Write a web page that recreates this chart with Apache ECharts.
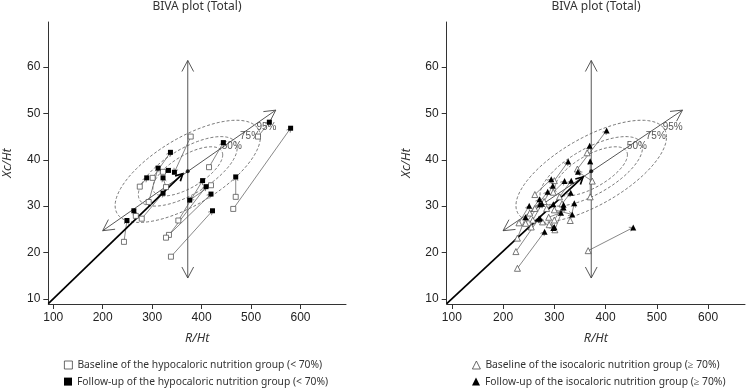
<!DOCTYPE html>
<html><head><meta charset="utf-8">
<script src="https://cdn.jsdelivr.net/npm/echarts@6/dist/echarts.min.js"></script>
<style>html,body{margin:0;padding:0;background:#fff}#c{width:746px;height:391px}</style>
</head><body><div id="c"></div>
<script>
// ---- data ----
const xTicks = [100, 200, 300, 400, 500, 600];
const yTicks = [10, 20, 30, 40, 50, 60];
const titleText = 'BIVA plot (Total)';

// reference tolerance ellipses
const ellipseLevels = [0.50, 0.75, 0.95];
const ellipseLabels = ['50%', '75%', '95%'];
const ellipseLabelR = [461, 498, 531];
const ellipseLabelXc = [43.0, 45.0, 47.1];
const refMean = [372, 37.5];
const refSD = [60, 4.5];
const refCorr = 0.67;

// reference axes (double-headed arrows)
const hydrationAxisR = [200, 550];
const hydrationAxisXc = [24.7, 50.7];
const cellAxisR = [372, 372];
const cellAxisXc = [14.5, 61.4];

// mean vectors (thick arrows from the axes corner)
const meanVecHypoR = [90, 362];
const meanVecHypoXc = [9, 37.0];
const meanVecIsoR = [90, 356];
const meanVecIsoXc = [9, 36.3];

// hypocaloric group (< 70%)
const hypoBaseR   = [378, 415, 514, 469, 464, 353, 334, 328, 338, 243, 267, 279, 293, 275, 301, 322, 328, 419];
const hypoBaseXc  = [45.0, 38.4, 45.0, 32.0, 29.4, 26.9, 23.8, 23.2, 19.1, 22.3, 27.9, 27.3, 30.9, 34.2, 36.1, 37.4, 34.1, 34.5];
const hypoFollowR = [345, 444, 537, 469, 580, 402, 409, 419, 422, 249, 263, 322, 312, 289, 337, 333, 322, 376];
const hypoFollowXc= [37.3, 43.7, 48.1, 36.3, 46.8, 35.5, 34.2, 32.6, 29.0, 26.9, 29.0, 32.8, 38.2, 36.1, 41.6, 37.7, 36.1, 31.3];

// isocaloric group (>= 70%)
const isoBaseR   = [228, 225, 228, 366, 231, 244, 277, 301, 331, 300, 289, 374, 370, 364, 345, 300, 262, 298, 310, 280, 262, 315, 252, 258, 285, 300, 255, 290];
const isoBaseXc  = [16.6, 20.2, 23.1, 20.4, 26.4, 26.3, 26.6, 24.9, 26.9, 29.2, 27.6, 35.4, 32.0, 41.5, 38.0, 35.5, 32.5, 33.0, 32.0, 31.0, 29.5, 30.5, 28.5, 27.0, 29.5, 27.0, 25.5, 26.0];
const isoFollowR = [281, 270, 244, 454, 251, 272, 298, 318, 339, 335, 313, 346, 370, 369, 402, 327, 294, 320, 333, 297, 287, 332, 271, 276, 298, 318, 272, 300];
const isoFollowXc= [24.5, 27.3, 27.6, 25.4, 30.1, 30.4, 25.3, 29.7, 30.6, 28.2, 28.6, 37.4, 39.7, 43.0, 46.3, 39.6, 35.8, 35.4, 35.5, 34.4, 33.1, 32.9, 31.5, 30.5, 30.4, 30.3, 27.4, 25.5];

const hypoNames = ['Baseline of the hypocaloric nutrition group (< 70%)', 'Follow-up of the hypocaloric nutrition group (< 70%)'];
const isoNames = ['Baseline of the isocaloric nutrition group (\u2265 70%)', 'Follow-up of the isocaloric nutrition group (\u2265 70%)'];

// ---- helpers ----
function zip(a, b) { return a.map((v, i) => [v, b[i]]); }
function pairs(r0, x0, r1, x1) { return r0.map((v, i) => [v, x0[i], r1[i], x1[i]]); }
function chi(p) { return Math.sqrt(-2 * Math.log(1 - p)); }

function head(p0, p1, len, ang) {
  const dx = p1[0] - p0[0], dy = p1[1] - p0[1];
  const L = Math.hypot(dx, dy) || 1;
  const bx = -dx / L, by = -dy / L;
  const a = ang * Math.PI / 180, c = Math.cos(a), s = Math.sin(a);
  return [
    [p1[0] + len * (bx * c - by * s), p1[1] + len * (bx * s + by * c)],
    p1,
    [p1[0] + len * (bx * c + by * s), p1[1] + len * (-bx * s + by * c)]
  ];
}
function arrowRender(len, ang, color, width, both) {
  return function (params, api) {
    const p0 = api.coord([api.value(0), api.value(1)]);
    const p1 = api.coord([api.value(2), api.value(3)]);
    const st = { stroke: color, lineWidth: width, fill: null };
    const ch = [
      { type: 'line', shape: { x1: p0[0], y1: p0[1], x2: p1[0], y2: p1[1] }, style: st },
      { type: 'polyline', shape: { points: head(p0, p1, len, ang) }, style: st }
    ];
    if (both) ch.push({ type: 'polyline', shape: { points: head(p1, p0, len, ang) }, style: st });
    return { type: 'group', children: ch };
  };
}
function ellipseRender(params, api) {
  const c = chi(api.value(2));
  const pts = [];
  const k = Math.sqrt(1 - refCorr * refCorr);
  for (let i = 0; i <= 160; i++) {
    const t = i / 160 * 2 * Math.PI;
    const x = refMean[0] + c * refSD[0] * Math.cos(t);
    const y = refMean[1] + c * refSD[1] * (refCorr * Math.cos(t) + k * Math.sin(t));
    pts.push(api.coord([x, y]));
  }
  return { type: 'polyline', shape: { points: pts }, style: { stroke: '#555', fill: null, lineWidth: 0.8, lineDash: [3, 2] } };
}
function labelRender(params, api) {
  const p = api.coord([api.value(0), api.value(1)]);
  return { type: 'text', x: p[0], y: p[1], style: { text: ellipseLabels[params.dataIndex], textAlign: 'center', textVerticalAlign: 'middle', fontSize: 10, fontFamily: 'Liberation Sans', fill: '#555' } };
}

const axisFont = { fontSize: 12, color: '#222', fontFamily: 'Liberation Sans' };
const nameFont = { fontSize: 12.5, color: '#333', fontStyle: 'italic', fontFamily: 'Noto Sans' };

function xAx(gi, max) {
  return {
    gridIndex: gi, type: 'value', min: 90, max: max,
    axisLine: { show: true, onZero: false, lineStyle: { color: '#333', width: 1 } },
    axisTick: { show: true, customValues: xTicks, length: 5, lineStyle: { color: '#333' } },
    axisLabel: Object.assign({ customValues: xTicks, margin: 8 }, axisFont),
    splitLine: { show: false },
    name: 'R/Ht', nameLocation: 'middle', nameGap: 28, nameTextStyle: nameFont
  };
}
function yAx(gi) {
  return {
    gridIndex: gi, type: 'value', min: 8.9, max: 69.7,
    axisLine: { show: true, onZero: false, lineStyle: { color: '#333', width: 1 } },
    axisTick: { show: true, customValues: yTicks, length: 5, lineStyle: { color: '#333' } },
    axisLabel: Object.assign({ customValues: yTicks, margin: 8 }, axisFont),
    splitLine: { show: false },
    name: 'Xc/Ht', nameLocation: 'middle', nameGap: 34, nameTextStyle: nameFont
  };
}

function chartSeries(gi, baseR, baseXc, folR, folXc, mvR, mvXc, names, symbol) {
  const ax = { xAxisIndex: gi, yAxisIndex: gi, coordinateSystem: 'cartesian2d' };
  return [
    Object.assign({ type: 'custom', silent: true, renderItem: ellipseRender, data: ellipseLevels.map(p => [refMean[0], refMean[1], p]), encode: { x: 0, y: 1 }, z: 1 }, ax),
    Object.assign({ type: 'custom', silent: true, renderItem: labelRender, data: zip(ellipseLabelR, ellipseLabelXc), encode: { x: 0, y: 1 }, z: 2 }, ax),
    Object.assign({ type: 'custom', silent: true, renderItem: arrowRender(12.5, 28, '#444', 0.9, true),
      data: [[hydrationAxisR[0], hydrationAxisXc[0], hydrationAxisR[1], hydrationAxisXc[1]], [cellAxisR[0], cellAxisXc[0], cellAxisR[1], cellAxisXc[1]]],
      encode: { x: [0, 2], y: [1, 3] }, z: 2 }, ax),
    Object.assign({ type: 'custom', silent: true, renderItem: arrowRender(8, 28, '#000', 1.7, false),
      data: [[mvR[0], mvXc[0], mvR[1], mvXc[1]]], encode: { x: [0, 2], y: [1, 3] }, z: 4 }, ax),
    Object.assign({ type: 'custom', silent: true, renderItem: arrowRender(4.5, 30, '#555', 0.7, false),
      data: pairs(baseR, baseXc, folR, folXc), encode: { x: [0, 2], y: [1, 3] }, z: 3 }, ax),
    Object.assign({ type: 'scatter', name: names[0], symbol: symbol, symbolSize: symbol === 'rect' ? 5 : 6,
      itemStyle: { color: '#fff', borderColor: '#555', borderWidth: 0.8, opacity: 1 }, data: zip(baseR, baseXc), z: 5 }, ax),
    Object.assign({ type: 'scatter', name: names[1], symbol: symbol, symbolSize: symbol === 'rect' ? 5 : 6,
      itemStyle: { color: '#000', opacity: 1 }, data: zip(folR, folXc), z: 6 }, ax),
    Object.assign({ type: 'scatter', symbol: 'circle', symbolSize: 4, itemStyle: { color: '#000' }, data: [refMean], z: 6 }, ax)
  ];
}

const legendText = { fontSize: 10.3, color: '#333', fontFamily: 'Noto Sans' };
function leg(left, top, name, icon, filled) {
  return {
    orient: 'horizontal', left: left, top: top, itemWidth: 8, itemHeight: 8, itemGap: 4, padding: 0,
    selectedMode: false, textStyle: legendText,
    data: [{ name: name, icon: icon, itemStyle: filled ? { color: '#000' } : { color: '#fff', borderColor: '#444', borderWidth: 0.8 } }]
  };
}

const option = {
  animation: false,
  backgroundColor: '#fff',
  grid: [
    { left: 48.3, top: 22, width: 297.7, height: 282 },
    { left: 446.7, top: 22, width: 298.3, height: 282 }
  ],
  xAxis: [xAx(0, 692), xAx(1, 672)],
  yAxis: [yAx(0), yAx(1)],
  legend: [
    leg(64, 360, hypoNames[0], 'rect', false),
    leg(64, 376.6, hypoNames[1], 'rect', true),
    leg(472, 360, isoNames[0], 'triangle', false),
    leg(472, 376.6, isoNames[1], 'triangle', true)
  ],
  graphic: [
    { type: 'text', x: 197, y: 6.5, style: { text: titleText, textAlign: 'center', textVerticalAlign: 'middle', fontSize: 12, fontFamily: 'Noto Sans', fill: '#333' } },
    { type: 'text', x: 596, y: 6.5, style: { text: titleText, textAlign: 'center', textVerticalAlign: 'middle', fontSize: 12, fontFamily: 'Noto Sans', fill: '#333' } }
  ],
  series: [].concat(
    chartSeries(0, hypoBaseR, hypoBaseXc, hypoFollowR, hypoFollowXc, meanVecHypoR, meanVecHypoXc, hypoNames, 'rect'),
    chartSeries(1, isoBaseR, isoBaseXc, isoFollowR, isoFollowXc, meanVecIsoR, meanVecIsoXc, isoNames, 'triangle')
  )
};

const chart = echarts.init(document.getElementById('c'), null, { renderer: 'canvas' });
chart.setOption(option);
</script>
</body></html>
